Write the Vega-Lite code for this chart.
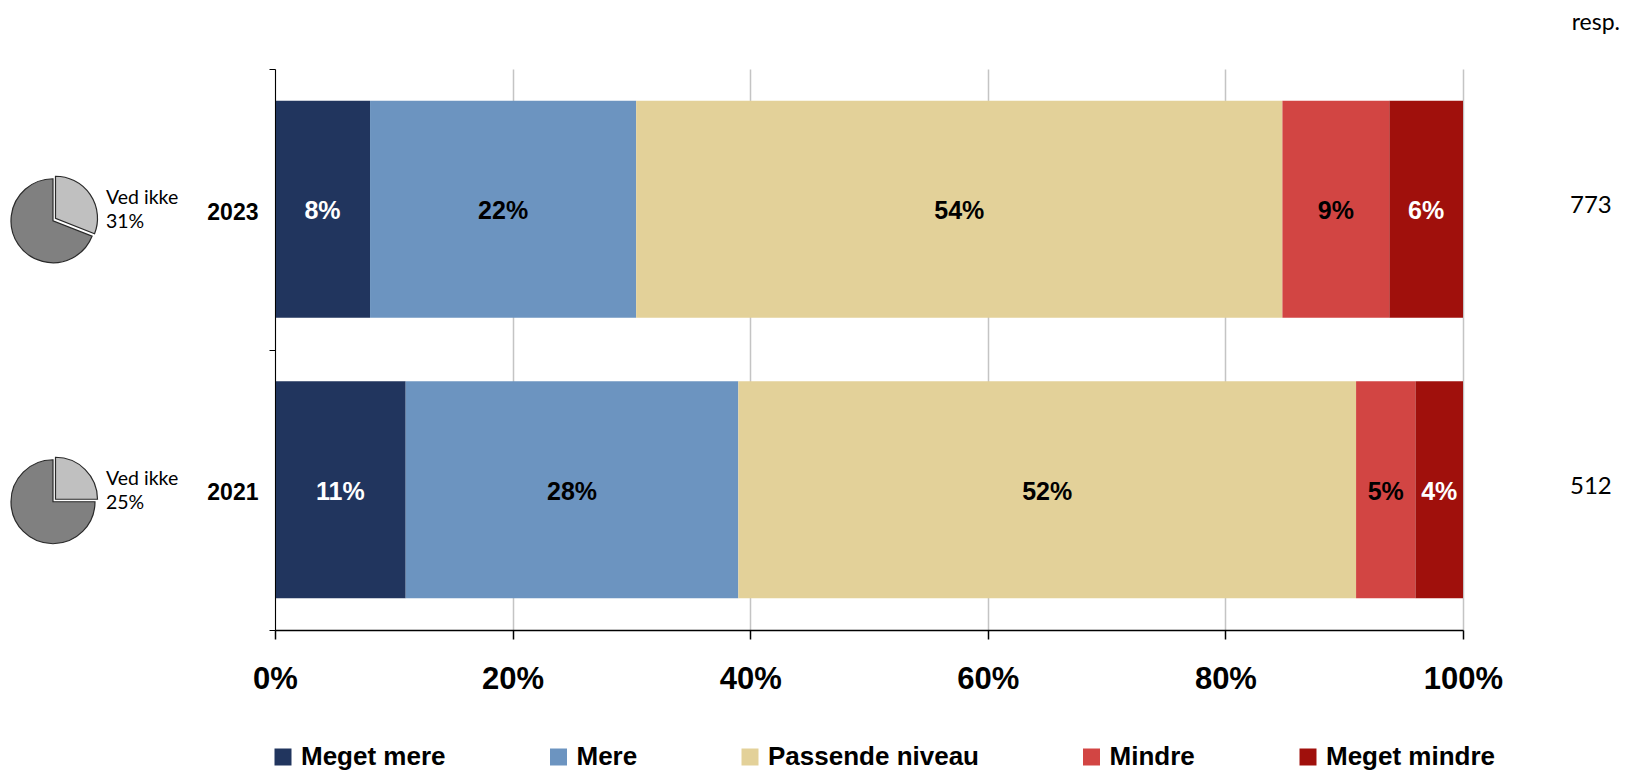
{
  "$schema": "https://vega.github.io/schema/vega-lite/v6.json",
  "padding": {"top": 12, "left": 0, "right": 0, "bottom": 0},
  "background": "white",
  "bounds": "flush",
  "spacing": 275,
  "resolve": {"legend": {"color": "independent"}},
  "config": {"view": {"stroke": null}, "font": "Liberation Sans"},
  "hconcat": [
    {
      "data": {"values": [
        {"year": "2023", "cat": "Ved ikke", "pct": 0.31},
        {"year": "2023", "cat": "Andet", "pct": 0.69},
        {"year": "2021", "cat": "Ved ikke", "pct": 0.25},
        {"year": "2021", "cat": "Andet", "pct": 0.75}
      ]},
      "facet": {"row": {"field": "year", "type": "nominal", "sort": ["2023", "2021"], "header": {"labels": false}, "title": null}},
      "spacing": 0,
      "spec": {
        "width": 104,
        "height": 280.5,
        "layer": [
          {
            "mark": {"type": "arc", "outerRadius": 42, "fill": "#808080", "stroke": "#2a2a2a", "strokeWidth": 1.2, "yOffset": 11.5, "xOffset": 1},
            "encoding": {
              "theta": {"field": "pct", "type": "quantitative", "stack": true, "scale": {"domain": [0, 1]}},
              "order": {"field": "cat", "sort": "descending"},
              "detail": {"field": "cat"},
              "opacity": {"condition": {"test": "datum.cat === 'Ved ikke'", "value": 0}, "value": 1}
            }
          },
          {
            "mark": {"type": "arc", "outerRadius": 42, "fill": "#c0c0c0", "stroke": "#2a2a2a", "strokeWidth": 1.2, "yOffset": 9, "xOffset": 3.5},
            "encoding": {
              "theta": {"field": "pct", "type": "quantitative", "stack": true, "scale": {"domain": [0, 1]}},
              "order": {"field": "cat", "sort": "descending"},
              "detail": {"field": "cat"},
              "opacity": {"condition": {"test": "datum.cat === 'Ved ikke'", "value": 1}, "value": 0}
            }
          },
          {
            "transform": [{"filter": "datum.cat === 'Ved ikke'"}],
            "mark": {"type": "text", "align": "left", "baseline": "alphabetic", "dx": 54, "dy": -5, "font": "Lato", "fontSize": 19.5, "color": "black"},
            "encoding": {"text": {"value": "Ved ikke"}}
          },
          {
            "transform": [{"filter": "datum.cat === 'Ved ikke'"}],
            "mark": {"type": "text", "align": "left", "baseline": "alphabetic", "dx": 54, "dy": 18.5, "font": "Lato", "fontSize": 19.5, "color": "black"},
            "encoding": {"text": {"field": "pct", "type": "quantitative", "format": ".0%"}}
          }
        ]
      }
    },
    {
      "width": 1188,
      "height": 561,
      "title": {"text": "resp.", "anchor": "end", "frame": "group", "dx": 157, "offset": 5, "baseline": "alphabetic", "font": "Lato", "fontSize": 23, "fontWeight": "normal", "color": "black"},
      "data": {"values": [
        {"year": "2023", "cat": "Meget mere", "k": 1, "pct": 0.08},
        {"year": "2023", "cat": "Mere", "k": 2, "pct": 0.224},
        {"year": "2023", "cat": "Passende niveau", "k": 3, "pct": 0.544},
        {"year": "2023", "cat": "Mindre", "k": 4, "pct": 0.09},
        {"year": "2023", "cat": "Meget mindre", "k": 5, "pct": 0.062},
        {"year": "2021", "cat": "Meget mere", "k": 1, "pct": 0.11},
        {"year": "2021", "cat": "Mere", "k": 2, "pct": 0.28},
        {"year": "2021", "cat": "Passende niveau", "k": 3, "pct": 0.52},
        {"year": "2021", "cat": "Mindre", "k": 4, "pct": 0.05},
        {"year": "2021", "cat": "Meget mindre", "k": 5, "pct": 0.04}
      ]},
      "layer": [
        {
          "mark": {"type": "bar", "height": {"band": 0.774}},
          "encoding": {
            "y": {"field": "year", "type": "nominal", "sort": ["2023", "2021"],
                  "scale": {"paddingInner": 0, "paddingOuter": 0},
                  "axis": {"title": null, "labelFont": "Liberation Sans", "labelFontWeight": "bold", "labelFontSize": 23, "labelColor": "black", "labelPadding": 11, "tickSize": 6, "tickColor": "black", "domainColor": "black", "tickBand": "extent", "labelOffset": 3, "zindex": 1}},
            "x": {"field": "pct", "type": "quantitative", "stack": "zero", "scale": {"domain": [0, 1]},
                  "axis": {"values": [0, 0.2, 0.4, 0.6, 0.8, 1], "format": ".0%", "title": null, "grid": true, "gridColor": "#c4c4c4", "gridWidth": 1.5, "domainColor": "black", "domainWidth": 1.5, "tickColor": "black", "tickSize": 9, "tickWidth": 1.5, "labelFont": "Liberation Sans", "labelFontWeight": "bold", "labelFontSize": 31, "labelColor": "black", "labelPadding": 25, "labelFlush": false, "labelOverlap": false}},
            "color": {"field": "cat", "type": "nominal",
                      "scale": {"domain": ["Meget mere", "Mere", "Passende niveau", "Mindre", "Meget mindre"], "range": ["#21355e", "#6c94c0", "#e3d199", "#d24543", "#a0100c"]},
                      "legend": {"title": null, "orient": "bottom", "direction": "horizontal", "symbolType": "square", "symbolSize": 289, "symbolStrokeWidth": 0, "symbolOffset": -5, "labelFont": "Liberation Sans", "labelFontWeight": "bold", "labelFontSize": 26, "labelColor": "black", "labelOffset": 5, "columnPadding": 103.5, "offset": 50, "labelLimit": 400}},
            "order": {"field": "k", "type": "quantitative"}
          }
        },
        {
          "mark": {"type": "text", "font": "Liberation Sans", "fontWeight": "bold", "fontSize": 25, "baseline": "middle", "dy": 2},
          "encoding": {
            "y": {"field": "year", "type": "nominal", "sort": ["2023", "2021"]},
            "x": {"field": "pct", "type": "quantitative", "stack": "zero", "bandPosition": 0.5},
            "detail": {"field": "cat"},
            "order": {"field": "k", "type": "quantitative"},
            "text": {"field": "pct", "type": "quantitative", "format": ".0%"},
            "color": {"condition": {"test": "datum.cat === 'Meget mere' || datum.cat === 'Meget mindre'", "value": "white"}, "value": "black"}
          }
        },
        {
          "data": {"values": [{"year": "2023", "n": 773}, {"year": "2021", "n": 512}]},
          "mark": {"type": "text", "align": "left", "baseline": "middle", "dx": 107, "dy": -3, "font": "Lato", "fontSize": 24, "color": "black"},
          "encoding": {
            "y": {"field": "year", "type": "nominal", "sort": ["2023", "2021"]},
            "x": {"value": "width"},
            "text": {"field": "n", "type": "quantitative"}
          }
        }
      ]
    }
  ]
}
